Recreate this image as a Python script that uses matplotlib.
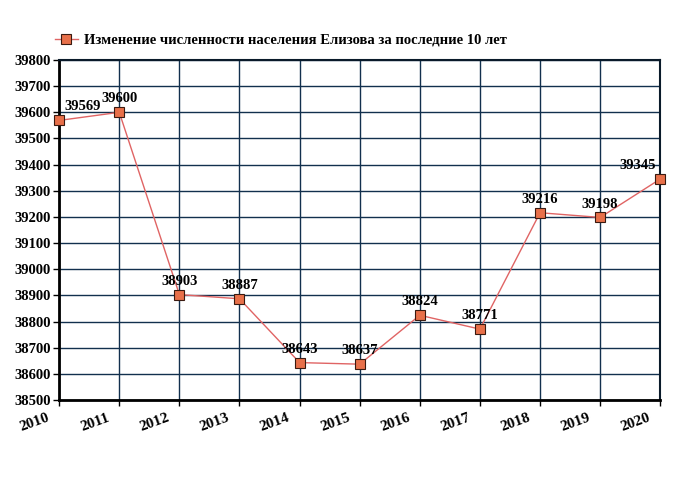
import matplotlib.pyplot as plt
from matplotlib.transforms import ScaledTranslation

years = [2010, 2011, 2012, 2013, 2014, 2015, 2016, 2017, 2018, 2019, 2020]
population = [39569, 39600, 38903, 38887, 38643, 38637, 38824, 38771, 39216, 39198, 39345]
y_ticks = list(range(38500, 39801, 100))

plt.rcParams['font.family'] = ['Liberation Serif', 'DejaVu Serif']
plt.rcParams['font.weight'] = 'bold'

fig = plt.figure(figsize=(6.8, 5.0), dpi=100)
ax = fig.add_axes([0.087, 0.2, 0.884, 0.68])

grid_color = '#12304e'
ax.plot(years, population, color='#e06464', linewidth=1, marker='s',
        markersize=7, markerfacecolor='#e8704a', markeredgecolor='#3a1a10',
        markeredgewidth=0.8, label='Изменение численности населения Елизова за последние 10 лет',
        zorder=3, clip_on=False)

# value labels above points; first and last nudged inward
for i, (x, y) in enumerate(zip(years, population)):
    if i == 0:
        ha, dx = 'left', 4
    elif i == len(years) - 1:
        ha, dx = 'right', -3
    else:
        ha, dx = 'center', 0
    ax.annotate(str(y), (x, y), xytext=(dx, 5), textcoords='offset points',
                ha=ha, va='bottom', fontsize=10.5, fontweight='bold', zorder=4)

ax.set_xlim(2010, 2020)
ax.set_ylim(38500, 39800)
ax.set_xticks(years)
ax.set_yticks(y_ticks)
ax.set_xticklabels([str(y) for y in years], rotation=20, ha='right', fontsize=11, fontweight='bold')
ax.set_yticklabels([str(v) for v in y_ticks], fontsize=10.5, fontweight='bold')
ax.grid(True, color=grid_color, linewidth=1)
ax.tick_params(length=4, width=1, direction='out', pad=2)
ax.tick_params(axis='x', pad=4)

# shift year labels a little to the left, like the reference
shift = ScaledTranslation(-8 / 100, 0, fig.dpi_scale_trans)
for lbl in ax.get_xticklabels():
    lbl.set_transform(lbl.get_transform() + shift)

for side in ['top', 'right']:
    ax.spines[side].set_color('#0a1a2a')
    ax.spines[side].set_linewidth(1.5)
for side in ['left', 'bottom']:
    ax.spines[side].set_color('black')
    ax.spines[side].set_linewidth(2)

fig.legend(loc='center', bbox_to_anchor=(0.413, 0.92), frameon=False,
           prop={'weight': 'bold', 'size': 10.5}, handlelength=1.6, handletextpad=0.4)

fig.savefig('out.png', dpi=100)
